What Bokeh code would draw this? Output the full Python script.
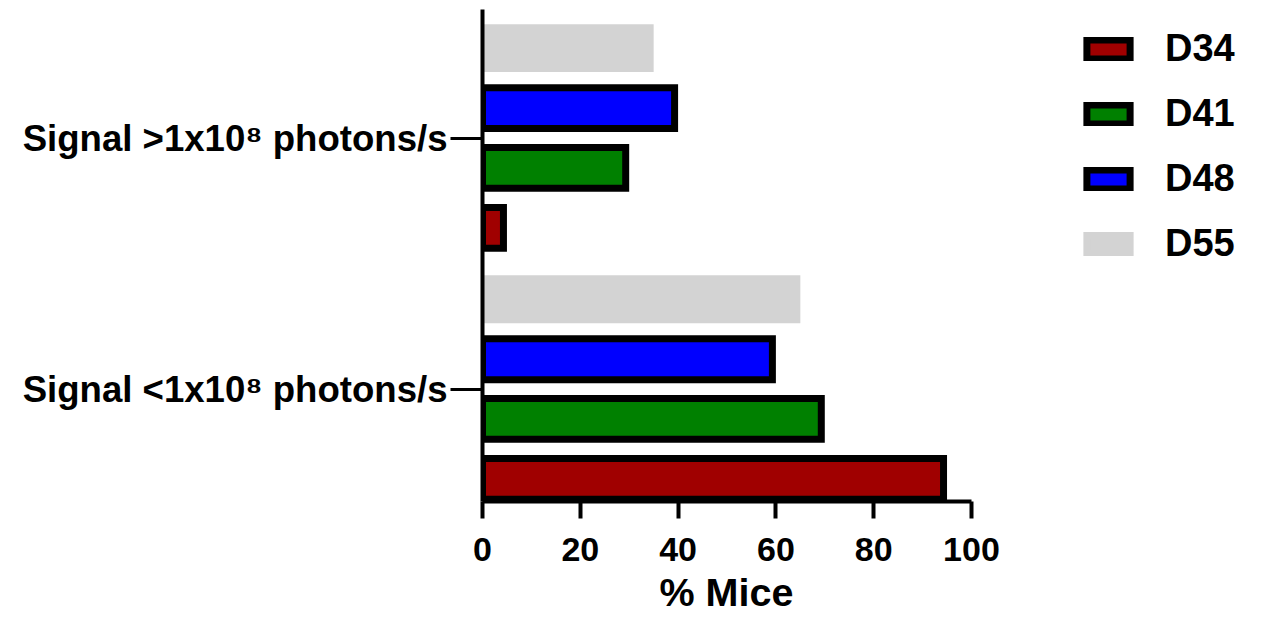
from bokeh.plotting import figure
from bokeh.models import ColumnDataSource, FixedTicker, Legend, LegendItem, Range1d, Title
from bokeh.transform import dodge
from bokeh.embed import file_html
from bokeh.resources import INLINE

# ---- data ----
groups = ["Signal <1x10⁸ photons/s", "Signal >1x10⁸ photons/s"]
group_pos = [0, 1]
series = ["D34", "D41", "D48", "D55"]
d34 = [95, 5]
d41 = [70, 30]
d48 = [60, 40]
d55 = [65, 35]
series_values = [d34, d41, d48, d55]
x_ticks = [0, 20, 40, 60, 80, 100]
x_title = "% Mice"

# ---- style ----
colors = ["#a00000", "#008000", "#0000ff", "#d3d3d3"]
edges = ["black", "black", "black", "#d3d3d3"]
offsets = [-0.358, -0.119, 0.119, 0.358]
FONT = "Liberation Sans"
PX_PER_X = 4.89
STROKE = 7
inset = STROKE / 2 / PX_PER_X
bar_h = 0.163

p = figure(width=1250, height=624,
           x_range=Range1d(0, 157.06), y_range=Range1d(-0.448, 1.512),
           output_backend="svg", toolbar_location=None,
           min_border_left=482, min_border_right=0,
           min_border_top=9, min_border_bottom=123)

renderers = []
for name, vals, c, lc, off in zip(series, series_values, colors, edges, offsets):
    src = ColumnDataSource(dict(y=group_pos, v=vals))
    r = p.hbar(y=dodge("y", off), left=0, right=dodge("v", -inset), height=bar_h,
               fill_color=c, line_color=lc, line_width=STROKE, line_join="miter",
               source=src)
    renderers.append(r)

legend = Legend(items=[LegendItem(label=s, renderers=[r]) for s, r in zip(series, renderers)],
                location=(599, 236), glyph_width=54, glyph_height=24,
                label_standoff=30, spacing=22, padding=0, margin=0,
                border_line_color=None, background_fill_alpha=0,
                label_text_font=FONT, label_text_font_style="bold",
                label_text_font_size="38px", label_text_color="black")
p.add_layout(legend)

xa = p.xaxis[0]
xa.ticker = FixedTicker(ticks=x_ticks)
xa.bounds = (x_ticks[0], x_ticks[-1])
xa.axis_line_width = 4
xa.axis_line_color = "black"
xa.major_tick_line_width = 4
xa.major_tick_line_color = "black"
xa.major_tick_out = 17
xa.major_tick_in = 0
xa.minor_tick_line_color = None
xa.major_label_text_font = FONT
xa.major_label_text_font_style = "bold"
xa.major_label_text_font_size = "34px"
xa.major_label_text_color = "black"
xa.major_label_standoff = 19

title = Title(text=x_title, align="left", offset=177, standoff=13,
              vertical_align="top", text_line_height=0.7,
              text_font=FONT, text_font_style="bold", text_font_size="39.5px",
              text_color="black")
p.add_layout(title, "below")

ya = p.yaxis[0]
ya.ticker = FixedTicker(ticks=group_pos)
ya.major_label_overrides = {pos: g for pos, g in zip(group_pos, groups)}
ya.axis_line_width = 4
ya.axis_line_color = "black"
ya.major_tick_line_width = 3
ya.major_tick_line_color = "black"
ya.major_tick_out = 32
ya.major_tick_in = 0
ya.minor_tick_line_color = None
ya.major_label_text_font = FONT
ya.major_label_text_font_style = "bold"
ya.major_label_text_font_size = "36.6px"
ya.major_label_text_color = "black"
ya.major_label_standoff = 3

p.xgrid.visible = False
p.ygrid.visible = False
p.outline_line_color = None

open("out.html", "w").write(file_html(p, INLINE))
